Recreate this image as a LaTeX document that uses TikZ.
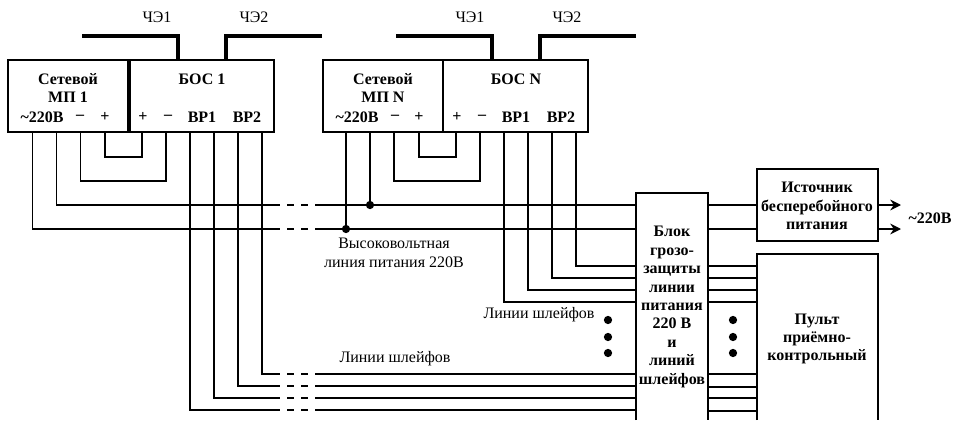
\documentclass[tikz,border=0pt]{standalone}
\usepackage{fontspec}
\setmainfont{Liberation Serif}
\usetikzlibrary{arrows.meta}
\tikzstyle{blok}=[draw,line width=1.1pt,inner sep=0pt,outer sep=0pt]
\tikzstyle{liniya}=[line width=1.1pt]
\tikzstyle{razryv}=[line width=1.1pt,dash pattern=on 5.25pt off 5.25pt,dash phase=5.25pt]
\tikzstyle{shina}=[line width=2.3pt,line join=miter]
\tikzstyle{titul}=[font=\fontsize{12}{13.8}\selectfont\bfseries,align=center,inner sep=0pt]
\tikzstyle{metka}=[font=\fontsize{12}{14}\selectfont,align=center,inner sep=0pt]
\tikzstyle{tochka}=[circle,fill=black,inner sep=0pt,minimum size=6.2pt]
\newcommand{\drawblok}[5]{
\pgfmathsetmacro{\w}{(#4-#2)*0.75}
\pgfmathsetmacro{\h}{(#5-#3)*0.75}
\node[blok,minimum width=\w pt,minimum height=\h pt] (#1) at ({(#2+#4)/2},{(#3+#5)/2}) {};
}
\newcommand{\drawports}[3]{
\foreach \i/\x in {#3} {
  \coordinate (#1\i) at (\x,#2);
}
}
\newcommand{\drawrazryv}[3]{
\coordinate (#1a) at (280,#2);
\coordinate (#1b) at (316,#2);
\draw[liniya] (#1) |- (#1a);
\draw[razryv] (#1a) -- (#1b);
\draw[liniya] (#1b) -- (#3);
}

\begin{document}
\begin{tikzpicture}[x=0.75pt,y=-0.75pt]
\useasboundingbox (0,0) rectangle (954,421);
	\drawblok{mpa}{8}{60}{128}{132}
	\drawblok{bosa}{130}{60}{274}{132}
	\drawblok{mpn}{323}{60}{443}{132}
	\drawblok{bosn}{443}{60}{588}{132}
	\drawblok{ibp}{757}{169}{878}{241}

	% bloki bez nizhnei storony
	\coordinate (blokLB) at (636,420);
	\coordinate (blokLT) at (636,193);
	\coordinate (blokRT) at (708,193);
	\coordinate (blokRB) at (708,420);
	\draw[liniya] (blokLB) -- (blokLT) -- (blokRT) -- (blokRB);
	\coordinate (pultLB) at (757,420);
	\coordinate (pultLT) at (757,254);
	\coordinate (pultRT) at (878,254);
	\coordinate (pultRB) at (878,420);
	\draw[liniya] (pultLB) -- (pultLT) -- (pultRT) -- (pultRB);

	% chuvstvitelnye elementy
	\coordinate (cea) at (82,36);
	\coordinate (ceb) at (322,36);
	\coordinate (cec) at (396,36);
	\coordinate (ced) at (636,36);
	\drawports{vxa}{60}{1/178,2/226}
	\drawports{vxn}{60}{1/492,2/540}
	\draw[shina] (cea) -| (vxa1);
	\draw[shina] (ceb) -| (vxa2);
	\draw[shina] (cec) -| (vxn1);
	\draw[shina] (ced) -| (vxn2);

	\drawports{pa}{132}{1/32.5,2/56.5,3/80.5,4/105,5/142,6/166,7/190,8/214,9/238,10/262}
	\drawports{pn}{132}{1/346,2/370,3/394,4/419,5/456,6/480,7/504,8/528,9/552,10/576}

	\coordinate (pa4l) at (105,157);
	\coordinate (pa3l) at (80.5,181);
	\coordinate (pn4l) at (419,157);
	\coordinate (pn3l) at (394,181);
	\draw[liniya] (pa4) -- (pa4l) -| (pa5);
	\draw[liniya] (pa3) -- (pa3l) -| (pa6);
	\draw[liniya] (pn4) -- (pn4l) -| (pn5);
	\draw[liniya] (pn3) -- (pn3l) -| (pn6);

	% vysokovoltnaya liniya
	\drawports{gl}{205}{1/636}
	\drawports{gl}{229}{2/636}
	\drawrazryv{pa2}{205}{gl1}
	\drawrazryv{pa1}{229}{gl2}
	\node[tochka] (uzb) at (370,205) {};
	\node[tochka] (uza) at (346,229) {};
	\draw[liniya] (pn2) -- (uzb);
	\draw[liniya] (pn1) -- (uza);
	\drawports{gr}{205}{1/708}
	\drawports{gr}{229}{2/708}
	\draw[liniya] (gr1) -- (ibp.west |- gr1);
	\draw[liniya] (gr2) -- (ibp.west |- gr2);
	\coordinate (vya) at (901,205);
	\coordinate (vyb) at (901,229);
	\draw[line width=1.6pt,-{Stealth[length=8pt,width=8pt]}] (ibp.east |- vya) -- (vya);
	\draw[line width=1.6pt,-{Stealth[length=8pt,width=8pt]}] (ibp.east |- vyb) -- (vyb);

	% shleify
	\foreach \i/\y in {10/266,9/278,8/290,7/302} {
	  \coordinate (gn\i) at (636,\y);
	  \draw[liniya] (pn\i) |- (gn\i);
	}
	\foreach \i/\y in {10/374,9/386,8/398,7/410} {
	  \coordinate (gk\i) at (636,\y);
	  \drawrazryv{pa\i}{\y}{gk\i}
	}
	\foreach \i/\y in {1/266,2/278,3/290,4/302,5/374,6/387,7/398,8/411} {
	  \coordinate (vl\i) at (708,\y);
	  \coordinate (vp\i) at (757,\y);
	  \draw[liniya] (vl\i) -- (vp\i);
	}

	\foreach \i/\y in {1/320,2/337,3/353} {
	  \node[tochka] (tl\i) at (608,\y) {};
	  \node[tochka] (tr\i) at (733,\y) {};
	}

	\node[titul] (tmpa) at (68,88) {Сетевой\\МП 1};
	\node[titul] (tbosa) at (202,79) {БОС 1};
	\node[titul] (tmpn) at (383,88) {Сетевой\\МП N};
	\node[titul] (tbosn) at (516,79) {БОС N};
	\foreach \n/\x/\t in {a1/42/{\textasciitilde220В},a2/80/{–},a3/105/{+},a4/143/{+},a5/168/{–},a6/202/{ВР1},a7/247/{ВР2},
	  n1/357/{\textasciitilde220В},n2/395/{–},n3/419/{+},n4/457/{+},n5/482/{–},n6/516/{ВР1},n7/561/{ВР2}} {
	  \node[titul] (t\n) at (\x,117) {\t};
	}
	\node[titul] (tibp) at (817,206) {Источник\\бесперебойного\\питания};
	\node[titul] (tpult) at (817,339) {Пульт\\приёмно-\\контрольный};
	\node[titul] (tblok) at (672,307) {Блок\\грозо-\\защиты\\линии\\питания\\220 В\\и\\линий\\шлейфов};
	\node[titul] (tvy) at (930,218) {\textasciitilde220В};

	\foreach \n/\x/\t in {a/157/ЧЭ1,b/254/ЧЭ2,c/470/ЧЭ1,d/567/ЧЭ2} {
	  \node[metka] (ch\n) at (\x,17) {\t};
	}
	\node[metka] (tvys) at (394,253) {Высоковольтная\\линия питания 220В};
	\node[metka] (tsha) at (539,315) {Линии шлейфов};
	\node[metka] (tshb) at (395,359) {Линии шлейфов};
\end{tikzpicture}
\end{document}
